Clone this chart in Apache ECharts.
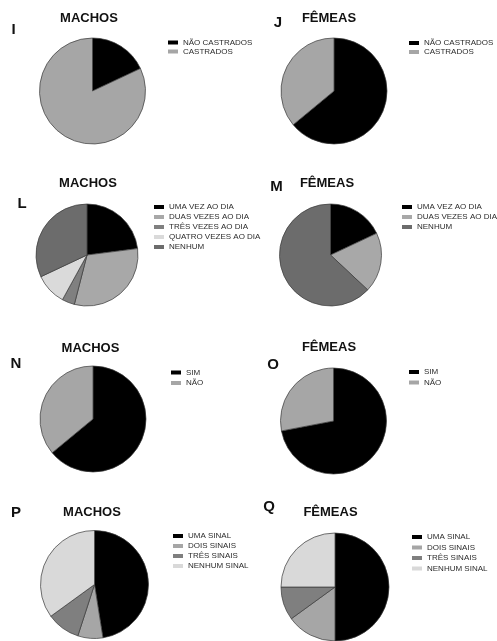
<!DOCTYPE html>
<html>
<head>
<meta charset="utf-8">
<title>Castração, alimentação e sinais — machos e fêmeas</title>
<script src="https://cdn.jsdelivr.net/npm/echarts@6/dist/echarts.min.js"></script>
<style>
  html, body { margin: 0; padding: 0; background: #ffffff; }
  #chart { width: 497px; height: 641px; }
</style>
</head>
<body>
<div id="chart"></div>
<script>
// ---- Data ----------------------------------------------------------------
const castrationLabels = ['NÃO CASTRADOS', 'CASTRADOS'];
const castrationMales = [18, 82];
const castrationFemales = [64, 36];

const feedingLabelsMales = ['UMA VEZ AO DIA', 'DUAS VEZES AO DIA', 'TRÊS VEZES AO DIA', 'QUATRO VEZES AO DIA', 'NENHUM'];
const feedingMales = [23, 31, 4, 10, 32];
const feedingLabelsFemales = ['UMA VEZ AO DIA', 'DUAS VEZES AO DIA', 'NENHUM'];
const feedingFemales = [18, 19, 63];

const yesNoLabels = ['SIM', 'NÃO'];
const yesNoMales = [64, 36];
const yesNoFemales = [72, 28];

const signLabels = ['UMA SINAL', 'DOIS SINAIS', 'TRÊS SINAIS', 'NENHUM SINAL'];
const signMales = [47.5, 7.5, 10, 35];
const signFemales = [50, 15, 10, 25];

const panelLetters = ['I', 'J', 'L', 'M', 'N', 'O', 'P', 'Q'];
const panelTitles = ['MACHOS', 'FÊMEAS', 'MACHOS', 'FÊMEAS', 'MACHOS', 'FÊMEAS', 'MACHOS', 'FÊMEAS'];

// ---- Styles --------------------------------------------------------------
const sliceColors = {
  'NÃO CASTRADOS': '#000000',
  'CASTRADOS': '#a6a6a6',
  'UMA VEZ AO DIA': '#000000',
  'DUAS VEZES AO DIA': '#a8a8a8',
  'TRÊS VEZES AO DIA': '#808080',
  'QUATRO VEZES AO DIA': '#dadada',
  'NENHUM': '#6c6c6c',
  'SIM': '#000000',
  'NÃO': '#a6a6a6',
  'UMA SINAL': '#000000',
  'DOIS SINAIS': '#a6a6a6',
  'TRÊS SINAIS': '#7f7f7f',
  'NENHUM SINAL': '#d9d9d9'
};

const FONT = '"Liberation Sans", Arial, sans-serif';

// ---- Layout of the eight panels -------------------------------------------
const panels = [
  { labels: castrationLabels, values: castrationMales,
    center: [92.5, 91], r: 53, title: [89, 18.5], letter: [13.5, 30],
    legend: { left: 168, top: 38, lh: 9, gap: 0 } },
  { labels: castrationLabels, values: castrationFemales,
    center: [334, 91], r: 53, title: [329, 18.5], letter: [278, 23],
    legend: { left: 409, top: 38.5, lh: 9, gap: 0 } },
  { labels: feedingLabelsMales, values: feedingMales,
    center: [87, 255], r: 51, title: [88, 183], letter: [22, 203.5],
    legend: { left: 154, top: 202, lh: 10, gap: 0 } },
  { labels: feedingLabelsFemales, values: feedingFemales,
    center: [330.5, 255], r: 51, title: [327, 183.5], letter: [276.5, 187],
    legend: { left: 402, top: 202, lh: 10, gap: 0 } },
  { labels: yesNoLabels, values: yesNoMales,
    center: [93, 419], r: 53, title: [90.5, 348], letter: [16, 364],
    legend: { left: 171, top: 367.5, lh: 10, gap: 0.5 } },
  { labels: yesNoLabels, values: yesNoFemales,
    center: [333.5, 421], r: 53, title: [329, 347.5], letter: [273, 364.5],
    legend: { left: 409, top: 367, lh: 10, gap: 0.5 } },
  { labels: signLabels, values: signMales,
    center: [94.5, 584.5], r: 54, title: [92, 512.5], letter: [16, 513],
    legend: { left: 173, top: 531, lh: 10, gap: 0 } },
  { labels: signLabels, values: signFemales,
    center: [335, 587], r: 54, title: [330.5, 512.5], letter: [269, 507],
    legend: { left: 412, top: 532, lh: 10, gap: 0.5 } }
];

const series = panels.map((p, i) => ({
  type: 'pie',
  name: panelLetters[i],
  center: p.center,
  radius: p.r,
  startAngle: 90,
  clockwise: true,
  silent: true,
  animation: false,
  label: { show: false },
  labelLine: { show: false },
  emphasis: { disabled: true },
  itemStyle: { borderColor: '#3a3a3a', borderWidth: 0.7 },
  data: p.labels.map((name, k) => ({
    name: name,
    value: p.values[k],
    itemStyle: { color: sliceColors[name] }
  }))
}));

const legends = panels.map(p => ({
  orient: 'vertical',
  left: p.legend.left,
  top: p.legend.top,
  padding: 0,
  icon: 'rect',
  itemWidth: 10,
  itemHeight: 4,
  itemGap: p.legend.gap,
  selectedMode: false,
  itemStyle: { borderWidth: 0 },
  textStyle: { fontFamily: FONT, fontSize: 8, color: '#2b2b2b', lineHeight: p.legend.lh },
  data: p.labels
}));

const texts = [];
panels.forEach((p, i) => {
  texts.push({
    type: 'text', x: p.title[0], y: p.title[1], silent: true,
    style: { text: panelTitles[i], fontFamily: FONT, fontSize: 13, fontWeight: 'bold',
             fill: '#111111', align: 'center', verticalAlign: 'middle' }
  });
  texts.push({
    type: 'text', x: p.letter[0], y: p.letter[1], silent: true,
    style: { text: panelLetters[i], fontFamily: FONT, fontSize: 15, fontWeight: 'bold',
             fill: '#111111', align: 'center', verticalAlign: 'middle' }
  });
});

const chart = echarts.init(document.getElementById('chart'), null, { renderer: 'canvas' });
chart.setOption({
  backgroundColor: '#ffffff',
  animation: false,
  legend: legends,
  series: series,
  graphic: { elements: texts }
});
</script>
</body>
</html>
